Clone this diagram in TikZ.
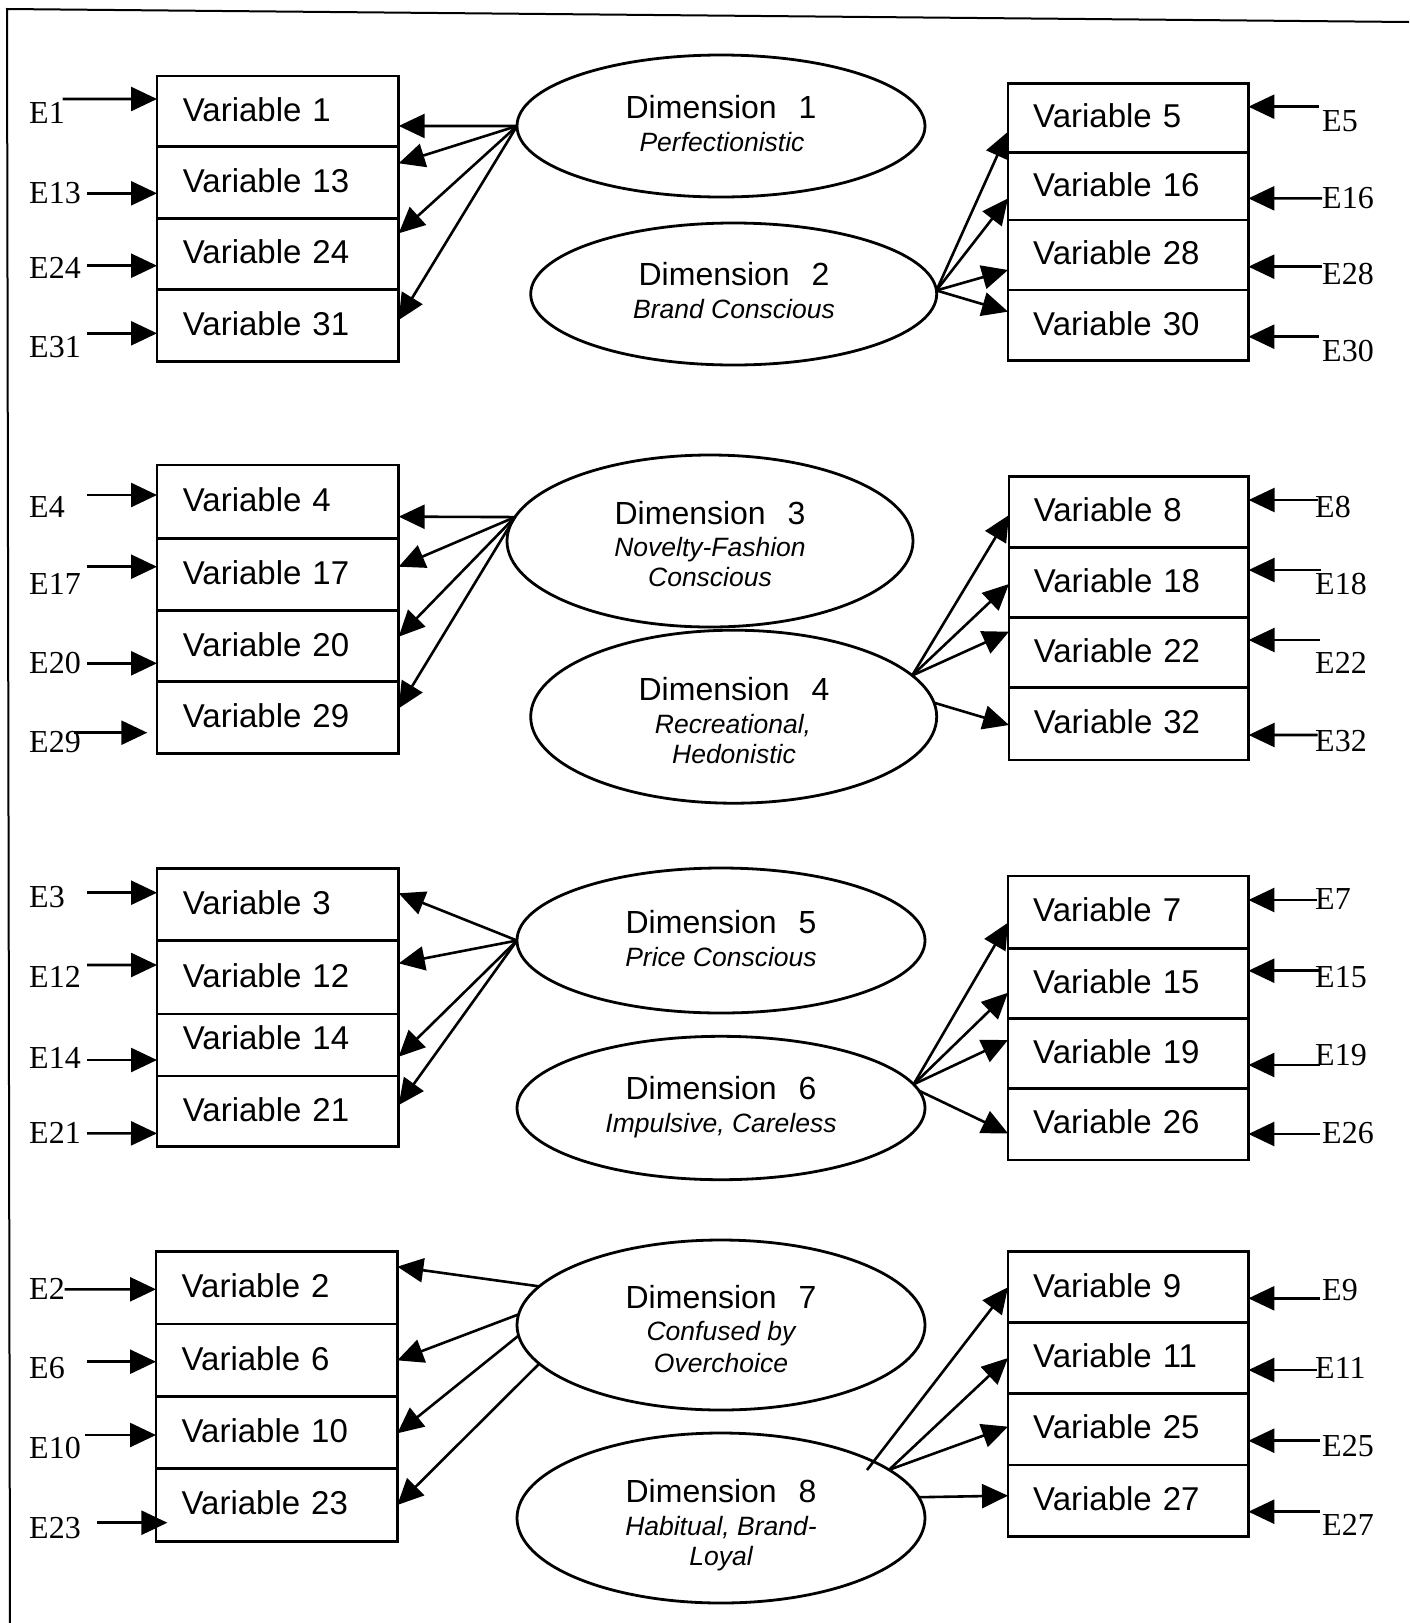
\documentclass[tikz,border=0pt]{standalone}
\usepackage{fontspec}
\setmainfont{Liberation Serif}
\newfontfamily\arialf{Liberation Sans}
\usetikzlibrary{arrows.meta,shapes.geometric}

% one measured row of an indicator block: [style] name x1 y1 x2 y2 text
\newcommand\vrow[7][]{%
  \node[vbox,#1,minimum width={(#5-#3)*1pt},minimum height={(#6-#4)*1pt}]
    (#2) at ({(#3+#5)/2},{(#4+#6)/2}) {#7};}
\newcommand\dgap{\hspace{0.68em}}

\begin{document}
\begin{tikzpicture}[x=1pt,y=-1pt,
  vbox/.style={draw,line width=2.8pt,outer sep=0pt,inner xsep=0pt,
    text width=190pt,align=left,font=\arialf\fontsize{33}{36}\selectfont,
    text height=23.6pt,text depth=4pt},
  dim/.style={draw,ellipse,line width=2.8pt,inner sep=0pt,outer sep=0pt},
  dtitle/.style={font=\arialf\fontsize{32}{36}\selectfont,inner sep=0pt,
    text height=23pt,text depth=0pt},
  dsub/.style={font=\arialf\itshape\fontsize{26.5}{30}\selectfont,inner sep=0pt,
    text height=19pt,text depth=0pt},
  elab/.style={font=\fontsize{32}{36}\selectfont,inner sep=0pt,anchor=west,
    text height=21.5pt,text depth=0pt},
  link/.style={line width=2.6pt,-{Triangle[length=26pt,width=24pt]}},
  frame/.style={line width=2pt}]

\useasboundingbox (0,0) rectangle (1409,1623);

% page frame (top and left rules only)
\coordinate (fr1) at (1409,22);
\coordinate (fr0) at (7,9);
\coordinate (fr2) at (10,1623);
\draw[frame] (fr1) -- (fr0) -- (fr2);

% ---------------- block 1 ----------------
\vrow{v1}{157}{76}{398.7}{146.7}{Variable 1}
\vrow{v13}{157}{146.7}{398.7}{218.3}{Variable 13}
\vrow{v24}{157}{218.3}{398.7}{289.3}{Variable 24}
\vrow{v31}{157}{289.3}{398.7}{361.7}{Variable 31}
\vrow{v5}{1008}{83.3}{1248.4}{152.7}{Variable 5}
\vrow{v16}{1008}{152.7}{1248.4}{220}{Variable 16}
\vrow{v28}{1008}{220}{1248.4}{290}{Variable 28}
\vrow{v30}{1008}{290}{1248.4}{360.7}{Variable 30}

\node[dim,minimum width=408pt,minimum height=142pt] (d1) at (721,126) {};
\node[dim,minimum width=406pt,minimum height=142pt] (d2) at (733.7,294) {};
\node[dtitle] (d1a) at (721,106.7) {Dimension\dgap 1};
\node[dsub] (d1b) at (722,141.5) {Perfectionistic};
\node[dtitle] (d2a) at (734,274) {Dimension\dgap 2};
\node[dsub] (d2b) at (734,309) {Brand Conscious};

\draw[link] (d1.west) -- ([yshift=-14.6pt]v1.east);
\draw[link] (d1.west) -- ([yshift=19.2pt]v13.east);
\draw[link] (d1.west) -- ([yshift=20.5pt]v24.east);
\draw[link] (d1.west) -- ([yshift=5.5pt]v31.east);
\draw[link] (d2.1) -- ([yshift=-13.7pt]v5.west);
\draw[link] (d2.1) -- ([yshift=-12pt]v16.west);
\draw[link] (d2.1) -- ([yshift=-15pt]v28.west);
\draw[link] (d2.1) -- ([yshift=13.7pt]v30.west);

\node[elab] (e1) at (29,113) {E1};
\node[elab] (e13) at (29,193) {E13};
\node[elab] (e24) at (29,268) {E24};
\node[elab] (e31) at (29,347) {E31};
\coordinate (e1s) at (62.5,99);
\coordinate (e13s) at (87,193.3);
\coordinate (e24s) at (87,265.7);
\coordinate (e31s) at (87,333.3);
\draw[link] (e1s) -- ([yshift=12.35pt]v1.west);
\draw[link] (e13s) -- ([yshift=-10.8pt]v13.west);
\draw[link] (e24s) -- ([yshift=-11.9pt]v24.west);
\draw[link] (e31s) -- ([yshift=-7.8pt]v31.west);

\node[elab] (e5) at (1322,121) {E5};
\node[elab] (e16) at (1322,197.5) {E16};
\node[elab] (e28) at (1322,274) {E28};
\node[elab] (e30) at (1322,351) {E30};
\coordinate (e5s) at (1319,106.7);
\coordinate (e16s) at (1322,198.3);
\coordinate (e28s) at (1322,266.7);
\coordinate (e30s) at (1319,336.7);
\draw[link] (e5s) -- ([yshift=11.3pt]v5.east);
\draw[link] (e16s) -- ([yshift=-12pt]v16.east);
\draw[link] (e28s) -- ([yshift=-11.7pt]v28.east);
\draw[link] (e30s) -- ([yshift=-11.35pt]v30.east);

% ---------------- block 2 ----------------
\vrow{v4}{157}{465}{398.7}{538.3}{Variable 4}
\vrow{v17}{157}{538.3}{398.7}{610.7}{Variable 17}
\vrow{v20}{157}{610.7}{398.7}{681.7}{Variable 20}
\vrow{v29}{157}{681.7}{398.7}{753.3}{Variable 29}
\vrow{v8}{1009}{476.7}{1248.6}{547.3}{Variable 8}
\vrow{v18}{1009}{547.3}{1248.6}{617.3}{Variable 18}
\vrow{v22}{1009}{617.3}{1248.6}{687.7}{Variable 22}
\vrow{v32}{1009}{687.7}{1248.6}{760}{Variable 32}

\node[dim,minimum width=406pt,minimum height=172pt] (d3) at (710,541) {};
\node[dim,minimum width=406pt,minimum height=173pt] (d4) at (733.7,716.7) {};
\node[dtitle] (d3a) at (710,512.5) {Dimension\dgap 3};
\node[dsub] (d3b) at (710,547) {Novelty-Fashion};
\node[dsub] (d3c) at (710,577) {Conscious};
\node[dtitle] (d4a) at (734,689) {Dimension\dgap 4};
\node[dsub] (d4b) at (733,724) {Recreational,};
\node[dsub] (d4c) at (734,754) {Hedonistic};

\draw[link] (d3.173) -- ([yshift=-15pt]v4.east);
\draw[link] (d3.173) -- ([yshift=7.8pt]v17.east);
\draw[link] (d3.173) -- ([yshift=9.5pt]v20.east);
\draw[link] (d3.173) -- ([yshift=9.2pt]v29.east);
\draw[link] (d4.13) -- ([yshift=-3pt]v8.west);
\draw[link] (d4.13) -- ([yshift=-1.7pt]v18.west);
\draw[link] (d4.13) -- ([yshift=20.8pt]v22.west);
\draw[link] (d4.4) -- ([yshift=-1.15pt]v32.west);

\node[elab] (e4) at (29,507) {E4};
\node[elab] (e17) at (29,583.5) {E17};
\node[elab] (e20) at (29,662.5) {E20};
\node[elab] (e29) at (29,741.7) {E29};
\coordinate (e4s) at (87,495);
\coordinate (e17s) at (87,566.7);
\coordinate (e20s) at (87,663.3);
\coordinate (e29s) at (73.7,732.7);
\coordinate (e29t) at (147.3,732.7);
\draw[link] (e4s) -- ([yshift=6.65pt]v4.west);
\draw[link] (e17s) -- ([yshift=7.8pt]v17.west);
\draw[link] (e20s) -- ([yshift=-17.1pt]v20.west);
\draw[link] (e29s) -- (e29t);

\node[elab] (e8) at (1315,507) {E8};
\node[elab] (e18) at (1315,584) {E18};
\node[elab] (e22) at (1315,662.5) {E22};
\node[elab] (e32) at (1315,741) {E32};
\coordinate (e8s) at (1317.6,500);
\coordinate (e18s) at (1320.8,570);
\coordinate (e22s) at (1320,640);
\coordinate (e32s) at (1317.6,735);
\draw[link] (e8s) -- ([yshift=12pt]v8.east);
\draw[link] (e18s) -- ([yshift=12.3pt]v18.east);
\draw[link] (e22s) -- ([yshift=12.5pt]v22.east);
\draw[link] (e32s) -- ([yshift=-11.15pt]v32.east);

% ---------------- block 3 ----------------
\vrow{v3}{157}{868.3}{398.7}{940.7}{Variable 3}
\vrow{v12}{157}{940.7}{398.7}{1014}{Variable 12}
\vrow[text depth=14pt]{v14}{157}{1014}{398.7}{1076}{Variable 14}
\vrow{v21}{157}{1076}{398.7}{1146.7}{Variable 21}
\vrow{v7}{1008}{876}{1248.4}{948.3}{Variable 7}
\vrow{v15}{1008}{948.3}{1248.4}{1018.3}{Variable 15}
\vrow{v19}{1008}{1018.3}{1248.4}{1088.3}{Variable 19}
\vrow{v26}{1008}{1088.3}{1248.4}{1160}{Variable 26}

\node[dim,minimum width=408pt,minimum height=145pt] (d5) at (721,940.5) {};
\node[dim,minimum width=408pt,minimum height=143.4pt] (d6) at (721,1108) {};
\node[dtitle] (d5a) at (721,922) {Dimension\dgap 5};
\node[dsub] (d5b) at (721,956.5) {Price Conscious};
\node[dtitle] (d6a) at (721,1088) {Dimension\dgap 6};
\node[dsub] (d6b) at (721,1123) {Impulsive, Careless};

\draw[link] (d5.west) -- ([yshift=11.2pt]v3.east);
\draw[link] (d5.west) -- ([yshift=14pt]v12.east);
\draw[link] (d5.west) -- ([yshift=-11.7pt]v14.east);
\draw[link] (d5.west) -- ([yshift=6.35pt]v21.east);
\draw[link] (d6.7) -- ([yshift=-10.5pt]v7.west);
\draw[link] (d6.7) -- ([yshift=-9.4pt]v15.west);
\draw[link] (d6.7) -- ([yshift=13.3pt]v19.west);
\draw[link] (d6.5) -- ([yshift=-9.15pt]v26.west);

\node[elab] (e3) at (29,897) {E3};
\node[elab] (e12) at (29,976.7) {E12};
\node[elab] (e14) at (29,1057.5) {E14};
\node[elab] (e21) at (29,1132.5) {E21};
\coordinate (e3s) at (87,892.7);
\coordinate (e12s) at (87,965);
\coordinate (e14s) at (87,1060);
\coordinate (e21s) at (87,1133.3);
\draw[link] (e3s) -- ([yshift=11.8pt]v3.west);
\draw[link] (e12s) -- ([yshift=12.35pt]v12.west);
\draw[link] (e14s) -- ([yshift=-15pt]v14.west);
\draw[link] (e21s) -- ([yshift=-22pt]v21.west);

\node[elab] (e7) at (1315,899) {E7};
\node[elab] (e15) at (1315,977) {E15};
\node[elab] (e19) at (1315,1055) {E19};
\node[elab] (e26) at (1322,1132.5) {E26};
\coordinate (e7s) at (1317,900);
\coordinate (e15s) at (1320,970.7);
\coordinate (e19s) at (1320,1065);
\coordinate (e26s) at (1320,1134);
\draw[link] (e7s) -- ([yshift=12.15pt]v7.east);
\draw[link] (e15s) -- ([yshift=12.6pt]v15.east);
\draw[link] (e19s) -- ([yshift=-11.7pt]v19.east);
\draw[link] (e26s) -- ([yshift=-9.85pt]v26.east);

% ---------------- block 4 ----------------
\vrow{v2}{156}{1251.7}{397.3}{1324}{Variable 2}
\vrow{v6}{156}{1324}{397.3}{1396.7}{Variable 6}
\vrow{v10}{156}{1396.7}{397.3}{1468.3}{Variable 10}
\vrow{v23}{156}{1468.3}{397.3}{1541.7}{Variable 23}
\vrow{v9}{1008}{1251.7}{1248.4}{1322.7}{Variable 9}
\vrow{v11}{1008}{1322.7}{1248.4}{1393.3}{Variable 11}
\vrow{v25}{1008}{1393.3}{1248.4}{1465}{Variable 25}
\vrow{v27}{1008}{1465}{1248.4}{1536.7}{Variable 27}

\node[dim,minimum width=408pt,minimum height=170pt] (d7) at (721,1325) {};
\node[dim,minimum width=408pt,minimum height=170pt] (d8) at (721,1518) {};
\node[dtitle] (d7a) at (721,1297) {Dimension\dgap 7};
\node[dsub] (d7b) at (721,1331) {Confused by};
\node[dsub] (d7c) at (721,1363) {Overchoice};
\node[dtitle] (d8a) at (721,1491) {Dimension\dgap 8};
\node[dsub] (d8b) at (721,1526) {Habitual, Brand-};
\node[dsub] (d8c) at (721,1556) {Loyal};

\coordinate (d8in) at (867,1470);
\draw[link] (d7.168) -- ([yshift=21.2pt]v2.east);
\draw[link] (d7.177) -- (v6.east);
\draw[link] (d7.183) -- ([yshift=-0.8pt]v10.east);
\draw[link] (d7.192) -- (v23.east);
\draw[link] (d8in) -- (v9.west);
\draw[link] (d8.16) -- (v11.west);
\draw[link] (d8.16) -- ([yshift=2.5pt]v25.west);
\draw[link] (d8.6) -- ([yshift=5.2pt]v27.west);

\node[elab] (e2) at (29,1289) {E2};
\node[elab] (e6) at (29,1367.5) {E6};
\node[elab] (e10) at (29,1447.5) {E10};
\node[elab] (e23) at (29,1528) {E23};
\coordinate (e2s) at (64.7,1289.3);
\coordinate (e6s) at (87,1361.7);
\coordinate (e10s) at (85,1435);
\coordinate (e23s) at (97.3,1522.7);
\coordinate (e23t) at (167.4,1522.7);
\draw[link] (e2s) -- ([yshift=-1.45pt]v2.west);
\draw[link] (e6s) -- ([yshift=-1.35pt]v6.west);
\draw[link] (e10s) -- ([yshift=-2.5pt]v10.west);
\draw[link] (e23s) -- (e23t);

\node[elab] (e9) at (1322,1290) {E9};
\node[elab] (e11) at (1315,1368) {E11};
\node[elab] (e25) at (1322,1446) {E25};
\node[elab] (e27) at (1322,1525) {E27};
\coordinate (e9s) at (1320,1298.3);
\coordinate (e11s) at (1317,1370);
\coordinate (e25s) at (1320,1440.7);
\coordinate (e27s) at (1320,1511.7);
\draw[link] (e9s) -- ([yshift=-11.1pt]v9.east);
\draw[link] (e11s) -- ([yshift=-12pt]v11.east);
\draw[link] (e25s) -- ([yshift=-11.55pt]v25.east);
\draw[link] (e27s) -- ([yshift=-10.85pt]v27.east);

\end{tikzpicture}
\end{document}
